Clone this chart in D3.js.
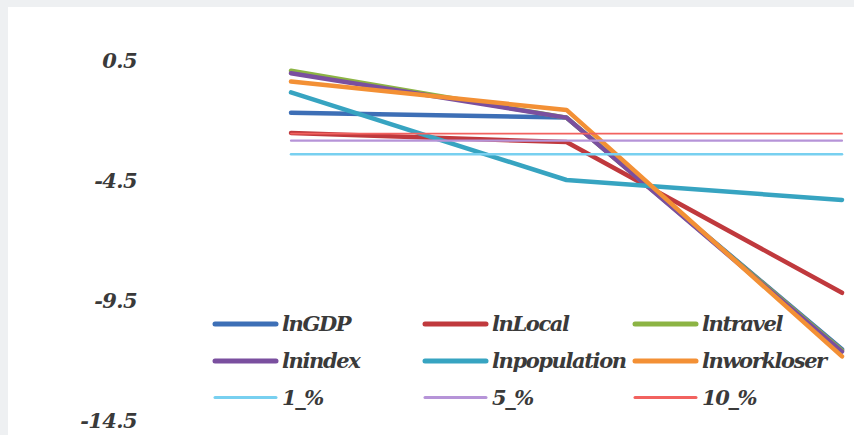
<!DOCTYPE html>
<html>
<head>
<meta charset="utf-8">
<script src="https://cdn.jsdelivr.net/npm/d3@7"></script>
<style>
  html, body { margin: 0; padding: 0; background: #eef0f2; }
  svg { display: block; }
</style>
</head>
<body>
<svg id="chart" width="854" height="435"></svg>
<script>
// ---- data ----
const categories = ["A", "B", "C"];
const seriesNames = ["lnGDP", "lnLocal", "lntravel", "lnindex", "lnpopulation", "lnworkloser", "1_%", "5_%", "10_%"];
const lnGDP        = [-1.70, -1.90, -11.55];
const lnLocal      = [-2.54, -2.92, -9.20];
const lntravel     = [0.05, -1.90, -11.60];
const lnindex      = [-0.05, -1.90, -11.65];
const lnpopulation = [-0.85, -4.50, -5.33];
const lnworkloser  = [-0.40, -1.58, -11.85];
const crit1        = [-3.43, -3.43, -3.43];
const crit5        = [-2.86, -2.86, -2.86];
const crit10       = [-2.57, -2.57, -2.57];
const yTicks = [0.5, -4.5, -9.5, -14.5];
const yTickLabels = ["0.5", "-4.5", "-9.5", "-14.5"];

const seriesValues = [lnGDP, lnLocal, lntravel, lnindex, lnpopulation, lnworkloser, crit1, crit5, crit10];
const colors = ["#3d6fb6", "#c0393d", "#8cb444", "#7a4f9f", "#37a4c1", "#f39035", "#78d0f0", "#b694d8", "#f2625f"];
const widths = [4.5, 4.5, 4.5, 4.5, 4.5, 4.5, 2.5, 2.2, 1.8];

const FONT = "'DejaVu Serif', serif";

// ---- chart ----
const svg = d3.select("#chart");
svg.append("rect").attr("x", 8).attr("y", 7).attr("width", 846).attr("height", 428).attr("fill", "#ffffff");

const x = d3.scalePoint().domain(categories).range([291, 842]);
const y = d3.scaleLinear().domain([-14.5, 0.5]).range([420, 60]);

// y axis labels
const yAxis = d3.axisLeft(y).tickValues(yTicks).tickFormat((d, i) => yTickLabels[i]).tickSize(0).tickPadding(0);
const gy = svg.append("g").attr("transform", "translate(137,0)").call(yAxis);
gy.select(".domain").remove();
gy.attr("font-family", null).attr("font-size", null);
gy.selectAll("text")
  .style("font-family", FONT).style("font-style", "italic").style("font-weight", "bold")
  .style("font-size", "21px").style("letter-spacing", "-0.6px").attr("fill", "#3a3a3a").attr("dy", "0.35em");

const line = d3.line().x((d, i) => x(categories[i])).y(d => y(d));

const drawOrder = [0, 1, 2, 3, 4, 5, 6, 7, 8];
svg.append("g").selectAll("path").data(drawOrder).join("path")
  .attr("d", i => line(seriesValues[i]))
  .attr("fill", "none")
  .attr("stroke", i => colors[i])
  .attr("stroke-width", i => widths[i])
  .attr("stroke-linejoin", "round")
  .attr("stroke-linecap", "round");

// legend
const legendCols = [215, 425, 635];
const legendRows = [324, 361, 397.5];
const lg = svg.append("g");
seriesNames.forEach((name, i) => {
  const cx = legendCols[i % 3];
  const cy = legendRows[Math.floor(i / 3)];
  lg.append("line").attr("x1", cx).attr("x2", cx + 61).attr("y1", cy).attr("y2", cy)
    .attr("stroke", colors[i]).attr("stroke-width", i < 6 ? 5 : 3).attr("stroke-linecap", "round");
  lg.append("text").attr("x", cx + 67).attr("y", cy).attr("dy", "0.35em")
    .style("font-family", FONT).style("font-style", "italic").style("font-weight", "bold")
    .style("font-size", "21px").style("letter-spacing", "-1.4px").attr("fill", "#3a3a3a").text(name);
});
</script>
</body>
</html>
